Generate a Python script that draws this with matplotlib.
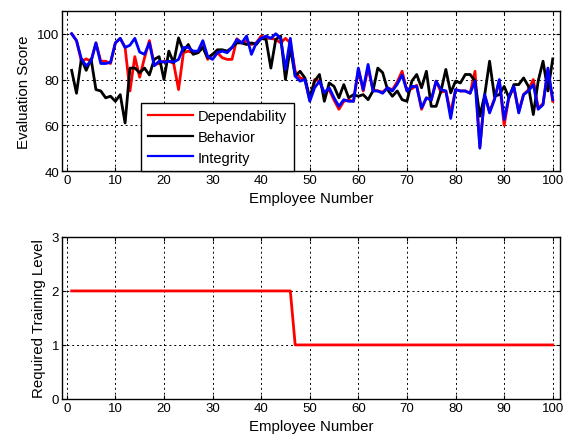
import matplotlib
matplotlib.use('Agg')
import matplotlib.pyplot as plt
import numpy as np

plt.rcParams['font.family'] = ['Liberation Sans', 'DejaVu Sans']

# ── data ──
employees = list(range(1, 101))

dependability = [100, 97, 88, 89, 88, 96, 88, 88, 87, 96,
                 98, 94, 75, 90, 81, 89.5, 97, 86.5, 87, 88,
                 88, 87, 75.6, 91.7, 92.4, 91.7, 91.7, 94.6, 88.8, 91,
                 91.7, 89.5, 88.8, 88.8, 97.8, 96, 96.8, 95.3, 96, 99,
                 98, 98, 97.5, 96, 98, 96, 83.6, 80.7, 80, 71,
                 80, 79.3, 74, 75.6, 71, 67, 70.5, 71, 70.5, 84.4,
                 75, 85, 75.6, 75, 74.5, 76.4, 75.5, 79, 83.6, 75,
                 76, 77.5, 67, 72, 71, 79.3, 74.5, 75, 65.4, 75.6,
                 75, 75, 74, 83.6, 50.5, 73, 66, 71.5, 79.5, 60,
                 72.5, 76.5, 66, 73.5, 75.5, 80, 67.5, 69.5, 84, 70.5]

behavior = [84, 74, 89, 84, 89, 75.6, 75, 72, 72.7, 70.5,
            73.4, 61, 85, 85, 83, 85, 82, 88.8, 90, 80,
            92.4, 87.3, 98.2, 92.4, 95.3, 91, 91.7, 94, 89.5, 91,
            93, 93, 92.4, 94, 96, 96, 95.3, 96, 95.3, 98,
            97.5, 85, 97.5, 99, 80, 94, 81.5, 83.6, 80.7, 72,
            79.3, 82.2, 70.5, 78.5, 77, 72, 77.8, 72, 73.4, 72.7,
            73.4, 71.2, 75, 85, 83, 75.6, 72.7, 75, 71.2, 70.5,
            79.3, 82.2, 76.4, 83.6, 68.3, 68.3, 75, 84.4, 74.2, 79.3,
            78.5, 82.2, 82.2, 79.3, 64, 73.4, 88, 72.7, 73.4, 77,
            72, 77.8, 77.8, 80.7, 77, 64.7, 79.3, 88, 75, 89]

integrity = [100, 97, 89, 86, 88, 96, 87, 87, 87.5, 96,
             98, 94, 95, 98, 92, 91, 96, 86, 88, 87.6,
             88, 87.6, 88.8, 94, 94, 92.4, 92.4, 97, 90, 88.8,
             91.7, 92.4, 91.7, 94, 97.5, 96, 99, 91, 96, 98,
             99, 98, 100, 98, 84.4, 98, 81.5, 79.3, 80, 70.5,
             76.4, 79.3, 74.2, 76.4, 72, 68.3, 71.2, 70.5, 70.5, 85,
             75.6, 86.6, 75, 75, 74, 76.4, 75, 78, 82, 75,
             77, 77, 67.6, 72, 71, 79.3, 75.6, 75, 63, 75.6,
             75, 75, 74, 79.3, 50, 73.4, 65.4, 71.2, 80, 62.5,
             72.7, 77, 65.4, 73.4, 75, 77.8, 67, 69, 85, 71.2]

training_level = [2] * 46 + [1] * 54

fig = plt.figure(figsize=(5.68, 4.39), dpi=100)
ax1 = fig.add_axes([0.109, 0.608, 0.877, 0.365])
ax2 = fig.add_axes([0.109, 0.089, 0.877, 0.369])

# ── top: evaluation scores ──
ax1.plot(employees, dependability, color='#ff0000', linewidth=2, label='Dependability')
ax1.plot(employees, behavior, color='black', linewidth=2, label='Behavior')
ax1.plot(employees, integrity, color='#0000ff', linewidth=2, label='Integrity')
ax1.set_xlim(-1, 101.5)
ax1.set_ylim(40, 110)
ax1.set_xticks(np.arange(0, 101, 10))
ax1.set_yticks([40, 60, 80, 100])
ax1.set_xlabel('Employee Number', fontsize=10.8, labelpad=4)
ax1.set_ylabel('Evaluation Score', fontsize=10.8)
leg = ax1.legend(loc='lower left', bbox_to_anchor=(0.159, 0.0), fontsize=10.5,
                 fancybox=False, edgecolor='black', framealpha=1,
                 handlelength=3.1, handletextpad=0.35, borderpad=0.45,
                 labelspacing=0.45, borderaxespad=0)
leg.get_frame().set_linewidth(1.0)
for ln in leg.get_lines():
    ln.set_linewidth(1.6)

# ── bottom: training level ──
ax2.plot(employees, training_level, color='#ff0000', linewidth=2)
ax2.set_xlim(-1, 101.5)
ax2.set_ylim(0, 3)
ax2.set_xticks(np.arange(0, 101, 10))
ax2.set_yticks([0, 1, 2, 3])
ax2.set_xlabel('Employee Number', fontsize=10.8, labelpad=4)
ax2.set_ylabel('Required Training Level', fontsize=10.8)

for ax in (ax1, ax2):
    ax.grid(True, color='black', linestyle=(0, (2, 3)), linewidth=0.7)
    ax.tick_params(direction='in', top=True, right=True, labelsize=9.5, length=3, pad=2)
    for s in ax.spines.values():
        s.set_linewidth(1.0)

fig.savefig('out.png', dpi=100)
